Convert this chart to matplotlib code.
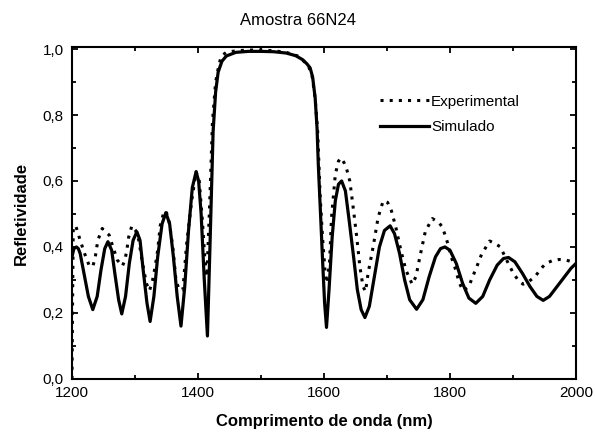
import matplotlib
matplotlib.use("Agg")
import matplotlib.pyplot as plt
from matplotlib.ticker import MultipleLocator, FuncFormatter

plt.rcParams['font.family'] = ['Liberation Sans', 'DejaVu Sans']

title = "Amostra 66N24"
xlabel = "Comprimento de onda (nm)"
ylabel = "Refletividade"
labels = ["Experimental", "Simulado"]

exp_x = [1200, 1201, 1202, 1206, 1213, 1220, 1227, 1233, 1237, 1241, 1248, 1254, 1259, 1265, 1272,
         1280, 1284, 1287, 1290, 1295, 1301, 1306, 1312, 1318, 1323, 1328, 1332, 1336, 1340, 1345,
         1349, 1354, 1360, 1365, 1370, 1376, 1382, 1390, 1397, 1402, 1407, 1411, 1414, 1418, 1423,
         1428, 1433, 1437, 1445, 1461, 1480, 1500, 1520, 1540, 1560, 1575, 1581, 1586, 1590, 1594,
         1598, 1602, 1605, 1609, 1612, 1618, 1623, 1627, 1632, 1636, 1641, 1647, 1652, 1657, 1662,
         1666, 1670, 1678, 1686, 1694, 1701, 1707, 1714, 1722, 1730, 1740, 1746, 1752, 1761, 1772,
         1782, 1788, 1795, 1802, 1808, 1815, 1821, 1830, 1836, 1842, 1850, 1863, 1872, 1880, 1890,
         1900, 1908, 1916, 1925, 1935, 1945, 1952, 1962, 1973, 1985, 1993, 2000]
exp_y = [0.0, 0.25, 0.46, 0.464, 0.42, 0.38, 0.345, 0.34, 0.37, 0.42, 0.456, 0.445, 0.436, 0.40, 0.36,
         0.342, 0.36, 0.39, 0.43, 0.464, 0.45, 0.42, 0.35, 0.29, 0.267, 0.30, 0.34, 0.39, 0.464, 0.50,
         0.51, 0.48, 0.40, 0.30, 0.27, 0.27, 0.41, 0.54, 0.628, 0.60, 0.48, 0.36, 0.31, 0.50, 0.78,
         0.90, 0.95, 0.979, 0.99, 0.995, 0.997, 0.997, 0.995, 0.99, 0.978, 0.95, 0.92, 0.85, 0.75, 0.55,
         0.42, 0.32, 0.29, 0.36, 0.49, 0.62, 0.66, 0.67, 0.655, 0.636, 0.60, 0.51, 0.43, 0.34, 0.28,
         0.265, 0.32, 0.40, 0.49, 0.54, 0.535, 0.51, 0.46, 0.39, 0.33, 0.287, 0.31, 0.368, 0.448, 0.486,
         0.475, 0.46, 0.42, 0.37, 0.337, 0.29, 0.267, 0.28, 0.31, 0.337, 0.377, 0.418, 0.41, 0.40, 0.36,
         0.322, 0.30, 0.287, 0.295, 0.31, 0.335, 0.35, 0.358, 0.362, 0.36, 0.355, 0.35]

sim_x = [1200, 1203, 1207, 1210, 1213, 1219, 1226, 1233, 1240, 1246, 1252, 1257, 1263, 1268, 1274, 1279,
         1285, 1291, 1297, 1303, 1308, 1313, 1319, 1324, 1330, 1336, 1343, 1349, 1355, 1361, 1367,
         1373, 1379, 1385, 1391, 1397, 1401, 1405, 1410, 1415, 1419, 1424, 1428, 1432, 1438, 1445,
         1460, 1480, 1500, 1520, 1540, 1555, 1566, 1573, 1578, 1582, 1586, 1589, 1591, 1595, 1598,
         1601, 1604, 1608, 1613, 1618, 1623, 1628, 1634, 1640, 1647, 1653, 1659, 1665, 1672, 1680,
         1688, 1696, 1705, 1712, 1720, 1728, 1736, 1747, 1757, 1767, 1777, 1785, 1792, 1800, 1810,
         1820, 1830, 1841, 1852, 1863, 1875, 1885, 1893, 1903, 1915, 1927, 1938, 1948, 1958, 1970,
         1982, 1992, 2000]
sim_y = [0.37, 0.395, 0.40, 0.395, 0.38, 0.32, 0.25, 0.21, 0.25, 0.33, 0.395, 0.416, 0.39, 0.32, 0.24, 0.197,
         0.25, 0.35, 0.42, 0.446, 0.42, 0.33, 0.23, 0.174, 0.25, 0.37, 0.47, 0.504, 0.47, 0.37, 0.25,
         0.16, 0.28, 0.45, 0.58, 0.628, 0.60, 0.50, 0.30, 0.13, 0.40, 0.75, 0.87, 0.93, 0.963, 0.979,
         0.99, 0.993, 0.993, 0.992, 0.988, 0.98, 0.968, 0.955, 0.943, 0.915, 0.852, 0.76, 0.65, 0.48, 0.35,
         0.23, 0.156, 0.27, 0.43, 0.54, 0.59, 0.60, 0.57, 0.48, 0.37, 0.27, 0.21, 0.186, 0.22, 0.31,
         0.40, 0.45, 0.464, 0.44, 0.38, 0.30, 0.24, 0.211, 0.24, 0.31, 0.37, 0.395, 0.40, 0.39, 0.35,
         0.29, 0.245, 0.229, 0.25, 0.30, 0.345, 0.365, 0.368, 0.355, 0.32, 0.28, 0.25, 0.238, 0.25, 0.28,
         0.31, 0.335, 0.35]

fig = plt.figure(figsize=(5.95, 4.32), dpi=100)
ax = fig.add_axes([0.121, 0.123, 0.847, 0.768])

ax.plot(exp_x, exp_y, color='black', lw=2.2, linestyle=(0, (1, 2)), label=labels[0])
ax.plot(sim_x, sim_y, color='black', lw=2.3, linestyle='-', label=labels[1],
        solid_joinstyle='round')

ax.set_xlim(1200, 2000)
ax.set_ylim(0, 1.006)
ax.xaxis.set_major_locator(MultipleLocator(200))
ax.xaxis.set_minor_locator(MultipleLocator(100))
ax.yaxis.set_major_locator(MultipleLocator(0.2))
ax.yaxis.set_minor_locator(MultipleLocator(0.1))
ax.yaxis.set_major_formatter(FuncFormatter(lambda v, p: f"{v:.1f}".replace('.', ',')))

for s in ax.spines.values():
    s.set_linewidth(1.5)
ax.tick_params(which='both', direction='in', top=True, right=True, width=1.3, labelsize=11)
ax.tick_params(which='major', length=4.5)
ax.tick_params(which='minor', length=3)
ax.tick_params(axis='y', pad=6)
ax.tick_params(axis='x', pad=5)

ax.set_xlabel(xlabel, fontsize=12, fontweight='bold', labelpad=10)
ax.set_ylabel(ylabel, fontsize=12, fontweight='bold', labelpad=10)
fig.text(0.5, 0.953, title, ha='center', va='center', fontsize=12)

leg = ax.legend(loc='upper left', bbox_to_anchor=(0.6, 0.875), frameon=False, fontsize=11,
                handlelength=3.2, handletextpad=0.1, labelspacing=0.75, borderaxespad=0)

fig.savefig("out.png", dpi=100)
